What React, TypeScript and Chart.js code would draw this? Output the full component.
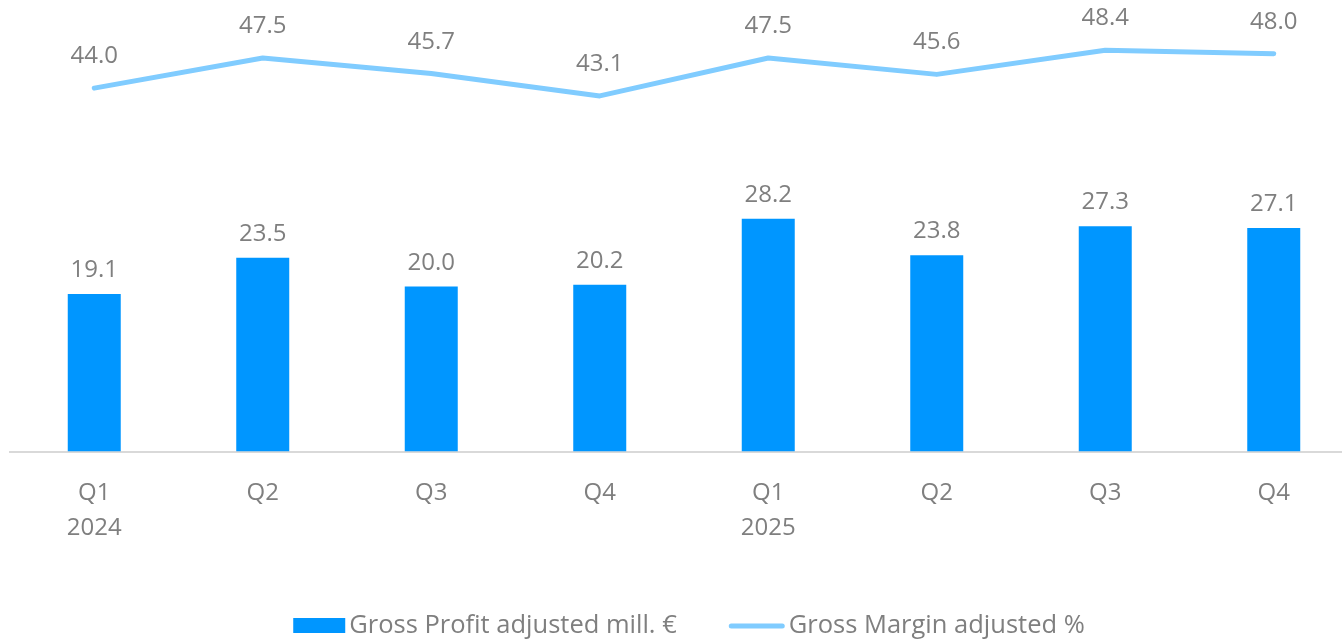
import React, { useEffect, useRef } from "react";
import { Chart, registerables } from "chart.js";

Chart.register(...registerables);

const categories: (string | string[])[] = [["Q1", "2024"], "Q2", "Q3", "Q4", ["Q1", "2025"], "Q2", "Q3", "Q4"];
const grossProfit = [19.1, 23.5, 20.0, 20.2, 28.2, 23.8, 27.3, 27.1];
const grossMargin = [44.0, 47.5, 45.7, 43.1, 47.5, 45.6, 48.4, 48.0];
const seriesNames = ["Gross Profit adjusted mill. €", "Gross Margin adjusted %"];

const FONT = "'Open Sans', 'Noto Sans', sans-serif";
const GRAY = "#7F7F7F";
const BAR_COLOR = "#0096FF";
const LINE_COLOR = "#80CCFF";
const FONT_SIZE = 24;
const LEGEND_FONT_SIZE = 25.5;

const valueLabels = {
  id: "valueLabels",
  afterDatasetsDraw(chart: any) {
    const ctx = chart.ctx;
    ctx.save();
    ctx.font = `${FONT_SIZE}px ${FONT}`;
    ctx.fillStyle = GRAY;
    ctx.textAlign = "center";
    ctx.textBaseline = "alphabetic";
    chart.data.datasets.forEach((ds: any, i: number) => {
      const meta = chart.getDatasetMeta(i);
      const off = ds.type === "line" ? 25 : 17;
      meta.data.forEach((el: any, j: number) => {
        ctx.fillText(Number(ds.data[j]).toFixed(1), el.x, el.y - off);
      });
    });
    ctx.restore();
  },
};

const customLegend = {
  id: "customLegend",
  afterDraw(chart: any) {
    const ctx = chart.ctx;
    ctx.save();
    ctx.font = `${LEGEND_FONT_SIZE}px ${FONT}`;
    const w1 = ctx.measureText(seriesNames[0]).width;
    const w2 = ctx.measureText(seriesNames[1]).width;
    const boxW = 52;
    const lineW = 56;
    const gapText = 4;
    const gapItems = 52;
    const total = boxW + gapText + w1 + gapItems + lineW + gapText + w2;
    let x = chart.width / 2 - total / 2;
    const cy = chart.height - 15;
    ctx.fillStyle = BAR_COLOR;
    ctx.fillRect(x, cy - 8, boxW, 15);
    x += boxW + gapText;
    ctx.fillStyle = GRAY;
    ctx.textAlign = "left";
    ctx.textBaseline = "alphabetic";
    ctx.fillText(seriesNames[0], x, cy + 7);
    x += w1 + gapItems;
    ctx.strokeStyle = LINE_COLOR;
    ctx.lineWidth = 5;
    ctx.lineCap = "round";
    ctx.beginPath();
    ctx.moveTo(x + 2.5, cy);
    ctx.lineTo(x + lineW - 2.5, cy);
    ctx.stroke();
    x += lineW + gapText;
    ctx.fillStyle = GRAY;
    ctx.fillText(seriesNames[1], x, cy + 7);
    ctx.restore();
  },
};

export default function App() {
  const canvasRef = useRef<HTMLCanvasElement>(null);

  useEffect(() => {
    if (!canvasRef.current) return;
    const chart = new Chart(canvasRef.current, {
      data: {
        labels: categories,
        datasets: [
          {
            type: "line",
            label: seriesNames[1],
            data: grossMargin,
            yAxisID: "y1",
            borderColor: LINE_COLOR,
            backgroundColor: LINE_COLOR,
            borderWidth: 5,
            borderCapStyle: "round",
            borderJoinStyle: "round",
            pointRadius: 0,
            tension: 0,
            fill: false,
          },
          {
            type: "bar",
            label: seriesNames[0],
            data: grossProfit,
            yAxisID: "y",
            backgroundColor: BAR_COLOR,
            borderWidth: 0,
            barPercentage: 1,
            categoryPercentage: 0.3145,
          },
        ],
      } as any,
      options: {
        responsive: true,
        maintainAspectRatio: false,
        animation: false,
        layout: { padding: { left: 10, right: 20, top: 39, bottom: 70.5 } },
        plugins: {
          legend: { display: false },
          tooltip: { enabled: false },
        },
        scales: {
          x: {
            type: "category",
            grid: { display: false, drawTicks: false },
            border: { display: true, color: "#D9D9D9", width: 2 },
            ticks: {
              color: GRAY,
              font: { family: FONT, size: FONT_SIZE, lineHeight: 35 / FONT_SIZE },
              padding: 24.5,
              maxRotation: 0,
              autoSkip: false,
            },
          },
          y: { display: false, min: 0, max: 50 },
          y1: { display: false, position: "right", min: 1.79, max: 49.71 },
        },
      } as any,
      plugins: [valueLabels, customLegend],
    });
    return () => chart.destroy();
  }, []);

  return (
    <div
      style={{
        position: "absolute",
        left: 0,
        top: 0,
        width: 1342,
        height: 641,
        overflow: "hidden",
        background: "#ffffff",
      }}
    >
      <div style={{ position: "relative", width: 1378, height: 641 }}>
        <canvas ref={canvasRef} />
      </div>
    </div>
  );
}
